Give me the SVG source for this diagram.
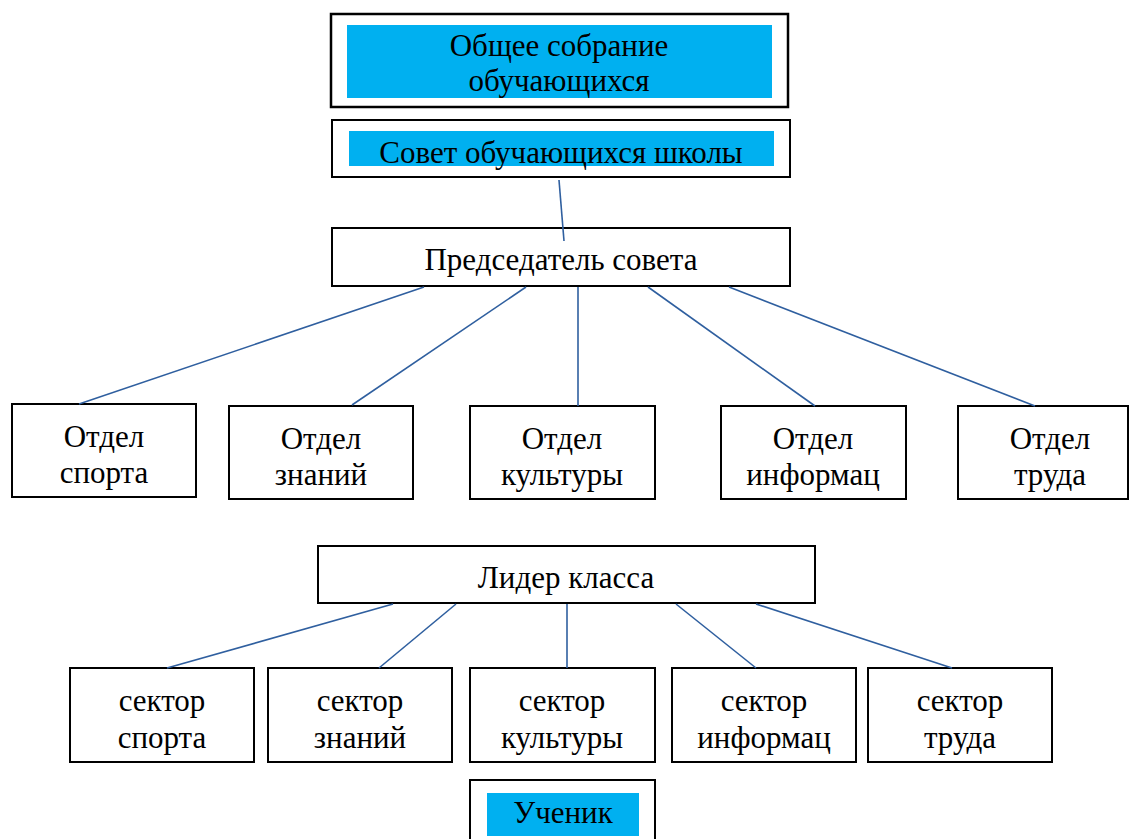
<svg xmlns="http://www.w3.org/2000/svg" width="1129" height="839" viewBox="0 0 1129 839">
<rect width="1129" height="839" fill="#fff"/>
<g id="n-obshchee" text-anchor="middle" font-family="Times New Roman, Liberation Serif, serif" font-size="31">
<rect x="331" y="14" width="457" height="93" fill="#fff" stroke="#000" stroke-width="2.5"/>
<rect x="347" y="25" width="425" height="73" fill="#00b0f0"/>
<text x="559" y="56">Общее собрание</text>
<text x="559" y="91">обучающихся</text>
</g>
<g id="n-sovet" text-anchor="middle" font-family="Times New Roman, Liberation Serif, serif" font-size="31">
<rect x="332" y="120" width="458" height="57" fill="#fff" stroke="#000" stroke-width="2"/>
<rect x="349" y="131" width="425" height="35" fill="#00b0f0"/>
<text x="561" y="163">Совет обучающихся школы</text>
</g>
<g id="n-predsedatel" text-anchor="middle" font-family="Times New Roman, Liberation Serif, serif" font-size="31">
<rect x="332" y="228" width="458" height="58" fill="#fff" stroke="#000" stroke-width="2"/>
<text x="561" y="270">Председатель совета</text>
</g>
<g id="n-otdel1" text-anchor="middle" font-family="Times New Roman, Liberation Serif, serif" font-size="31">
<rect x="12" y="404" width="184" height="93" fill="#fff" stroke="#000" stroke-width="2"/>
<text x="104" y="447">Отдел</text>
<text x="104" y="483">спорта</text>
</g>
<g id="n-otdel2" text-anchor="middle" font-family="Times New Roman, Liberation Serif, serif" font-size="31">
<rect x="229" y="406" width="184" height="93" fill="#fff" stroke="#000" stroke-width="2"/>
<text x="321" y="449">Отдел</text>
<text x="321" y="485">знаний</text>
</g>
<g id="n-otdel3" text-anchor="middle" font-family="Times New Roman, Liberation Serif, serif" font-size="31">
<rect x="470" y="406" width="185" height="93" fill="#fff" stroke="#000" stroke-width="2"/>
<text x="562" y="449">Отдел</text>
<text x="562" y="485">культуры</text>
</g>
<g id="n-otdel4" text-anchor="middle" font-family="Times New Roman, Liberation Serif, serif" font-size="31">
<rect x="721" y="406" width="185" height="93" fill="#fff" stroke="#000" stroke-width="2"/>
<text x="813" y="449">Отдел</text>
<text x="813" y="485">информац</text>
</g>
<g id="n-otdel5" text-anchor="middle" font-family="Times New Roman, Liberation Serif, serif" font-size="31">
<rect x="958" y="406" width="170" height="93" fill="#fff" stroke="#000" stroke-width="2"/>
<text x="1050" y="449">Отдел</text>
<text x="1050" y="485">труда</text>
</g>
<g id="n-lider" text-anchor="middle" font-family="Times New Roman, Liberation Serif, serif" font-size="31">
<rect x="318" y="546" width="497" height="57" fill="#fff" stroke="#000" stroke-width="2"/>
<text x="566" y="588">Лидер класса</text>
</g>
<g id="n-sektor1" text-anchor="middle" font-family="Times New Roman, Liberation Serif, serif" font-size="31">
<rect x="70" y="668" width="184" height="94" fill="#fff" stroke="#000" stroke-width="2"/>
<text x="162" y="711">сектор</text>
<text x="162" y="748">спорта</text>
</g>
<g id="n-sektor2" text-anchor="middle" font-family="Times New Roman, Liberation Serif, serif" font-size="31">
<rect x="268" y="668" width="184" height="94" fill="#fff" stroke="#000" stroke-width="2"/>
<text x="360" y="711">сектор</text>
<text x="360" y="748">знаний</text>
</g>
<g id="n-sektor3" text-anchor="middle" font-family="Times New Roman, Liberation Serif, serif" font-size="31">
<rect x="470" y="668" width="185" height="94" fill="#fff" stroke="#000" stroke-width="2"/>
<text x="562" y="711">сектор</text>
<text x="562" y="748">культуры</text>
</g>
<g id="n-sektor4" text-anchor="middle" font-family="Times New Roman, Liberation Serif, serif" font-size="31">
<rect x="672" y="668" width="184" height="94" fill="#fff" stroke="#000" stroke-width="2"/>
<text x="764" y="711">сектор</text>
<text x="764" y="748">информац</text>
</g>
<g id="n-sektor5" text-anchor="middle" font-family="Times New Roman, Liberation Serif, serif" font-size="31">
<rect x="868" y="668" width="184" height="94" fill="#fff" stroke="#000" stroke-width="2"/>
<text x="960" y="711">сектор</text>
<text x="960" y="748">труда</text>
</g>
<g id="n-uchenik" text-anchor="middle" font-family="Times New Roman, Liberation Serif, serif" font-size="31">
<rect x="470" y="780" width="185" height="70" fill="#fff" stroke="#000" stroke-width="2"/>
<rect x="487" y="793" width="152" height="43" fill="#00b0f0"/>
<text x="563" y="823">Ученик</text>
</g>
<g id="connectors" stroke="#2f5f9f" stroke-width="1.6">
<line x1="559" y1="180" x2="564" y2="241"/>
<line x1="424" y1="287" x2="79" y2="404"/>
<line x1="526" y1="287" x2="352" y2="405"/>
<line x1="578" y1="287" x2="578" y2="406"/>
<line x1="648" y1="287" x2="815" y2="406"/>
<line x1="729" y1="287" x2="1035" y2="406"/>
<line x1="393" y1="604" x2="167" y2="668"/>
<line x1="456" y1="604" x2="379" y2="668"/>
<line x1="567" y1="604" x2="567" y2="668"/>
<line x1="676" y1="604" x2="756" y2="668"/>
<line x1="756" y1="604" x2="952" y2="668"/>
</g>
</svg>
